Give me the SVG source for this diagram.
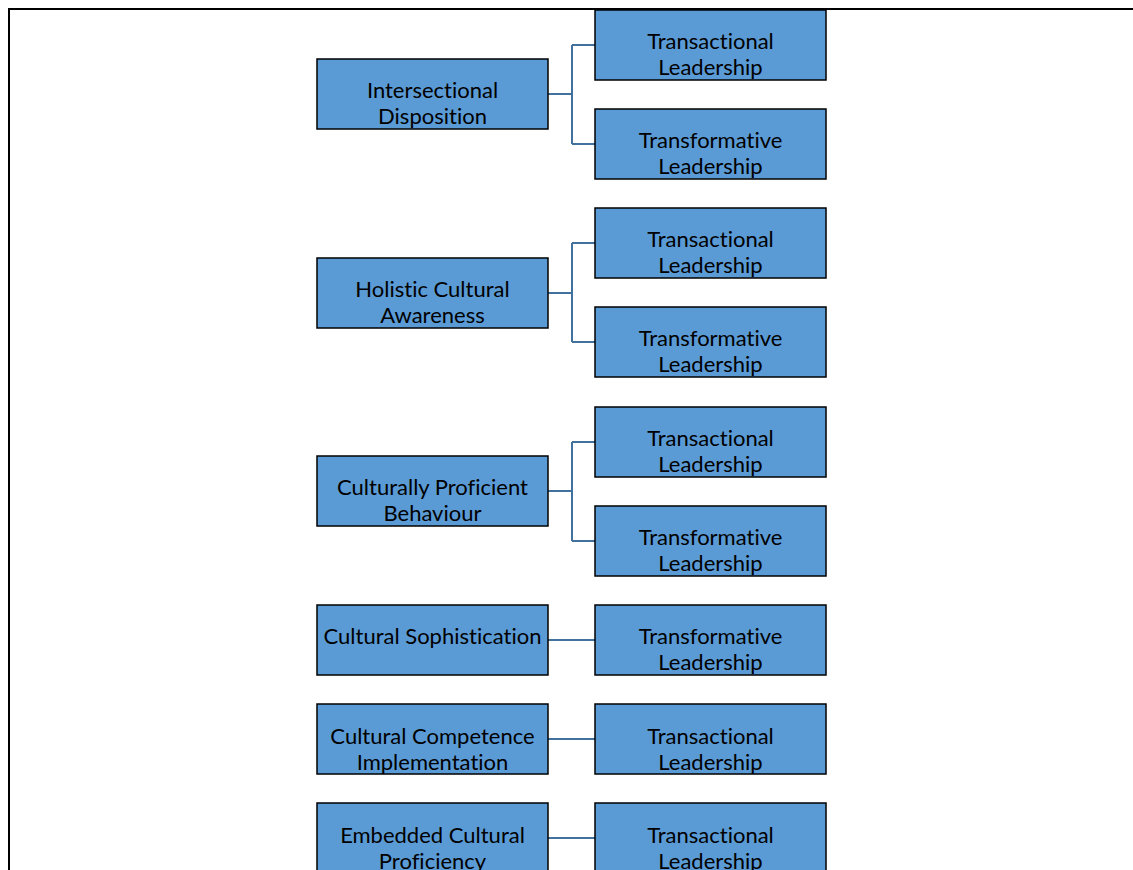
<svg xmlns="http://www.w3.org/2000/svg" width="1133" height="870" viewBox="0 0 1133 870">
<style>
.box{fill:#5B9BD5;stroke:#000;stroke-width:1.5}
.t{font-family:Lato,"Liberation Sans",sans-serif;font-size:22px;fill:#000;text-anchor:middle;font-variant-ligatures:none;font-feature-settings:"liga" 0}
.c{fill:none;stroke:#41719C;stroke-width:2}
</style>
<rect x="0" y="0" width="1133" height="870" fill="#fff"/>
<path d="M9 870 V9 H1133" fill="none" stroke="#000" stroke-width="2"/>
<g id="connectors">
<path class="c" d="M548 94 H572 M572 45 V144 M572 45 H595 M572 144 H595"/>
<path class="c" d="M548 293 H572 M572 243 V342 M572 243 H595 M572 342 H595"/>
<path class="c" d="M548 491 H572 M572 442 V541 M572 442 H595 M572 541 H595"/>
<path class="c" d="M548 640 H595"/>
<path class="c" d="M548 739 H595"/>
<path class="c" d="M548 838 H595"/>
</g>
<g id="n1"><rect class="box" x="317" y="59" width="231" height="70"/><text class="t" x="432.5" y="98">Intersectional</text><text class="t" x="432.5" y="124">Disposition</text></g>
<g id="n1a"><rect class="box" x="595" y="10" width="231" height="70"/><text class="t" x="710.5" y="49">Transactional</text><text class="t" x="710.5" y="75">Leadership</text></g>
<g id="n1b"><rect class="box" x="595" y="109" width="231" height="70"/><text class="t" x="710.5" y="148">Transformative</text><text class="t" x="710.5" y="174">Leadership</text></g>
<g id="n2"><rect class="box" x="317" y="258" width="231" height="70"/><text class="t" x="432.5" y="297">Holistic Cultural</text><text class="t" x="432.5" y="323">Awareness</text></g>
<g id="n2a"><rect class="box" x="595" y="208" width="231" height="70"/><text class="t" x="710.5" y="247">Transactional</text><text class="t" x="710.5" y="273">Leadership</text></g>
<g id="n2b"><rect class="box" x="595" y="307" width="231" height="70"/><text class="t" x="710.5" y="346">Transformative</text><text class="t" x="710.5" y="372">Leadership</text></g>
<g id="n3"><rect class="box" x="317" y="456" width="231" height="70"/><text class="t" x="432.5" y="495">Culturally Proficient</text><text class="t" x="432.5" y="521">Behaviour</text></g>
<g id="n3a"><rect class="box" x="595" y="407" width="231" height="70"/><text class="t" x="710.5" y="446">Transactional</text><text class="t" x="710.5" y="472">Leadership</text></g>
<g id="n3b"><rect class="box" x="595" y="506" width="231" height="70"/><text class="t" x="710.5" y="545">Transformative</text><text class="t" x="710.5" y="571">Leadership</text></g>
<g id="n4"><rect class="box" x="317" y="605" width="231" height="70"/><text class="t" x="432.5" y="644">Cultural Sophistication</text></g>
<g id="n4a"><rect class="box" x="595" y="605" width="231" height="70"/><text class="t" x="710.5" y="644">Transformative</text><text class="t" x="710.5" y="670">Leadership</text></g>
<g id="n5"><rect class="box" x="317" y="704" width="231" height="70"/><text class="t" x="432.5" y="744">Cultural Competence</text><text class="t" x="432.5" y="770">Implementation</text></g>
<g id="n5a"><rect class="box" x="595" y="704" width="231" height="70"/><text class="t" x="710.5" y="744">Transactional</text><text class="t" x="710.5" y="770">Leadership</text></g>
<g id="n6"><rect class="box" x="317" y="803" width="231" height="70"/><text class="t" x="432.5" y="843">Embedded Cultural</text><text class="t" x="432.5" y="869">Proficiency</text></g>
<g id="n6a"><rect class="box" x="595" y="803" width="231" height="70"/><text class="t" x="710.5" y="843">Transactional</text><text class="t" x="710.5" y="869">Leadership</text></g>
</svg>
